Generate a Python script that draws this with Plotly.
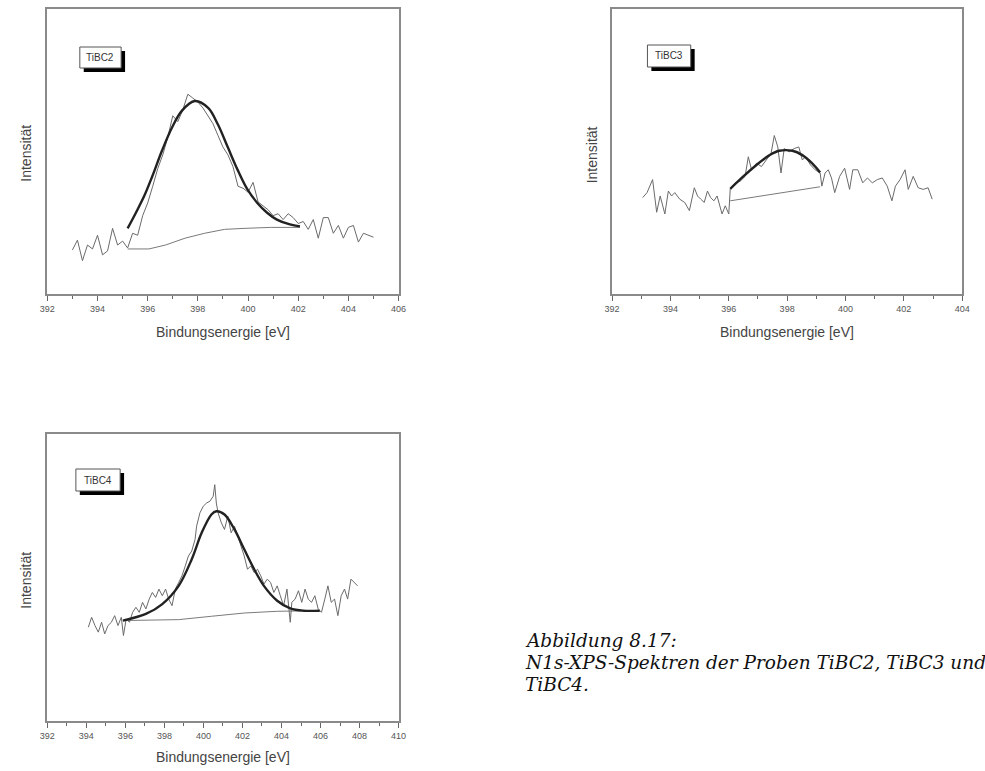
import plotly.graph_objects as go

W, H = 985, 771

# ---------------- data ----------------
# Panel TiBC2
tibc2_x = [393.0, 393.2, 393.4, 393.6, 393.8, 394.0, 394.2, 394.4, 394.6, 394.8,
           395.0, 395.2, 395.4, 395.6, 395.8, 396.0, 396.2, 396.4, 396.6, 396.8,
           397.0, 397.2, 397.4, 397.6, 397.8, 398.0, 398.2, 398.4, 398.6, 398.8,
           399.0, 399.2, 399.4, 399.6, 399.8, 400.0, 400.2, 400.4, 400.6, 400.8,
           401.0, 401.2, 401.4, 401.6, 401.8, 402.0, 402.2, 402.4, 402.6, 402.8,
           403.0, 403.2, 403.4, 403.6, 403.8, 404.0, 404.2, 404.4, 404.6, 404.8, 405.0]
tibc2_y = [36, 46, 25, 41, 37, 51, 31, 35, 58, 41,
           45, 38, 53, 51, 71, 84, 101, 119, 133, 151,
           173, 167, 179, 195, 191, 187, 181, 173, 165, 153,
           141, 133, 121, 101, 99, 95, 105, 85, 81, 77,
           71, 73, 67, 73, 69, 63, 65, 57, 67, 48,
           69, 69, 53, 61, 48, 59, 61, 44, 53, 51, 49]
tibc2_fit_x = [395.20, 395.53, 395.86, 396.18, 396.58, 396.97, 397.36, 397.88, 398.41,
               398.80, 399.19, 399.58, 399.97, 400.37, 400.76, 401.15, 401.67, 402.07]
tibc2_fit_y = [58, 74, 91, 111, 138, 161, 178, 188, 181,
               164, 141, 118, 98, 84, 74, 67, 62, 60]
tibc2_bg_x = [395.20, 396.05, 396.71, 397.49, 398.27, 399.06, 399.84, 400.89, 402.07]
tibc2_bg_y = [37, 37, 41, 48, 53, 57, 58, 59, 59]

# Panel TiBC3
tibc3_x = [393.05, 393.20, 393.39, 393.53, 393.65, 393.81, 393.93, 394.04, 394.15, 394.32,
           394.49, 394.65, 394.82, 394.93, 395.04, 395.16, 395.27, 395.38, 395.49, 395.60,
           395.77, 395.88, 396.00, 396.05, 396.22, 396.39, 396.56, 396.67, 396.78, 396.95,
           397.12, 397.28, 397.45, 397.56, 397.68, 397.79, 397.90, 398.07, 398.24, 398.40,
           398.52, 398.63, 398.80, 398.96, 399.13, 399.19, 399.30, 399.41, 399.52, 399.63,
           399.80, 399.97, 400.14, 400.25, 400.42, 400.59, 400.75, 400.92, 401.09, 401.26,
           401.43, 401.59, 401.71, 401.87, 402.04, 402.15, 402.32, 402.49, 402.66, 402.83, 402.97]
tibc3_y = [95.4, 100.3, 113.2, 80.9, 97.0, 79.2, 101.9, 97.0, 100.3, 93.8,
           90.6, 82.5, 105.1, 97.0, 93.8, 90.6, 101.9, 95.4, 92.2, 97.0,
           79.2, 87.3, 79.2, 103.5, 110.0, 111.6, 116.4, 135.8, 122.9, 129.4,
           126.1, 132.6, 139.1, 156.8, 145.5, 119.7, 143.9, 140.7, 143.9, 145.5,
           132.6, 135.8, 127.7, 122.9, 119.7, 106.7, 119.7, 122.9, 114.8, 100.3,
           116.4, 124.5, 103.5, 122.9, 122.9, 110.0, 114.8, 110.0, 113.2, 114.8,
           106.7, 92.2, 106.7, 113.2, 122.9, 103.5, 116.4, 105.1, 103.5, 105.1, 93.8]
tibc3_fit_x = [396.05, 396.50, 396.95, 397.40, 397.73, 398.18, 398.52, 398.85, 399.13]
tibc3_fit_y = [104.1, 116.4, 127.7, 137.4, 141.7, 141.7, 137.4, 129.4, 120.3]
tibc3_bg_x = [396.05, 399.13]
tibc3_bg_y = [92.2, 106.1]

# Panel TiBC4
tibc4_x = [394.10, 394.27, 394.44, 394.61, 394.78, 394.94, 395.11, 395.28, 395.45, 395.62,
           395.79, 395.90, 396.04, 396.21, 396.37, 396.54, 396.71, 396.88, 397.05, 397.22,
           397.38, 397.55, 397.72, 397.89, 398.06, 398.22, 398.39, 398.56, 398.73, 398.90,
           399.07, 399.23, 399.40, 399.57, 399.65, 399.82, 399.99, 400.16, 400.33, 400.50,
           400.58, 400.66, 400.75, 400.92, 401.08, 401.25, 401.42, 401.59, 401.76, 401.93,
           402.09, 402.26, 402.43, 402.60, 402.77, 402.94, 403.10, 403.27, 403.44, 403.61,
           403.78, 403.94, 404.11, 404.28, 404.45, 404.53, 404.70, 404.87, 405.04, 405.21,
           405.37, 405.54, 405.71, 405.88, 406.05, 406.22, 406.38, 406.55, 406.72, 406.89,
           407.06, 407.23, 407.39, 407.56, 407.73, 407.90]
tibc4_y = [92.1, 101.9, 93.8, 87.3, 97.0, 85.6, 93.8, 97.0, 103.5, 93.8,
           101.9, 84.0, 100.3, 97.0, 106.8, 111.7, 106.8, 116.6, 110.1, 119.8,
           126.3, 121.4, 129.6, 123.1, 129.6, 119.8, 113.3, 129.6, 136.1, 142.6,
           152.4, 162.1, 167.0, 178.4, 191.5, 204.5, 211.0, 214.2, 215.9, 220.8,
           232.2, 214.2, 204.5, 194.7, 188.2, 201.2, 184.9, 191.5, 181.7, 171.9,
           162.1, 149.1, 152.4, 145.9, 149.1, 142.6, 134.5, 139.4, 136.1, 126.3,
           132.8, 123.1, 113.3, 129.6, 97.0, 116.6, 119.8, 128.0, 116.6, 129.6,
           119.8, 116.6, 123.1, 110.1, 106.8, 119.8, 132.8, 116.6, 119.8, 103.5,
           123.1, 129.6, 119.8, 139.4, 136.1, 132.8]
tibc4_fit_x = [395.87, 397.05, 397.89, 398.73, 399.40, 399.91, 400.41, 400.66, 401.08,
               401.59, 402.09, 402.60, 403.10, 403.78, 404.45, 405.12, 405.96]
tibc4_fit_y = [98.7, 105.2, 114.9, 132.8, 158.9, 184.9, 202.9, 206.1, 202.9,
               188.2, 168.7, 149.1, 132.8, 118.2, 110.7, 108.4, 108.4]
tibc4_bg_x = [395.87, 398.73, 400.41, 402.09, 403.78, 405.96]
tibc4_bg_y = [98.7, 99.6, 102.9, 106.1, 107.8, 108.4]

panel_names = ["TiBC2", "TiBC3", "TiBC4"]
x_ranges = [[392, 406], [392, 404], [392, 410]]
y_ranges = [[-9, 282], [0, 282], [0, 282]]
x_title = "Bindungsenergie [eV]"
y_title = "Intensität"
caption = ["Abbildung 8.17:",
           "N1s-XPS-Spektren der Proben TiBC2, TiBC3 und",
           "TiBC4."]

# ---------------- layout geometry (pixels) ----------------
frames = [(40, 397, 9, 294), (614, 970, 9, 294), (40, 397, 434, 721)]
label_boxes = [(73, 115, 47, 68), (650, 694, 45, 67), (69, 114, 469, 491)]
ytitle_pos = [(18, 153), (594, 155), (18, 580)]
xtitle_py = [332, 332, 757]


def fx(px):
    return px / W


def fy(py):
    return 1 - py / H


fig = go.Figure()

series = [
    (tibc2_x, tibc2_y, tibc2_fit_x, tibc2_fit_y, tibc2_bg_x, tibc2_bg_y),
    (tibc3_x, tibc3_y, tibc3_fit_x, tibc3_fit_y, tibc3_bg_x, tibc3_bg_y),
    (tibc4_x, tibc4_y, tibc4_fit_x, tibc4_fit_y, tibc4_bg_x, tibc4_bg_y),
]

annotations = []
shapes = []
sans = "Liberation Sans, Arial, sans-serif"

for i, (sx, sy, fxv, fyv, bx, by) in enumerate(series):
    n = "" if i == 0 else str(i + 1)
    xa, ya = "x" + n, "y" + n
    fig.add_trace(go.Scatter(x=bx, y=by, xaxis=xa, yaxis=ya, mode="lines",
                             line=dict(color="#7a7a7a", width=1), showlegend=False))
    fig.add_trace(go.Scatter(x=sx, y=sy, xaxis=xa, yaxis=ya, mode="lines",
                             line=dict(color="#6a6a6a", width=1), showlegend=False))
    fig.add_trace(go.Scatter(x=fxv, y=fyv, xaxis=xa, yaxis=ya, mode="lines",
                             line=dict(color="#222222", width=2.4, shape="spline"),
                             showlegend=False))
    l, r, t, b = frames[i]
    fig.update_layout(**{
        "xaxis" + n: dict(domain=[fx(l), fx(r)], anchor=ya, range=x_ranges[i],
                          dtick=2, tick0=392, ticks="outside", ticklen=5, tickcolor="#666",
                          tickwidth=1, showline=True, linecolor="#8a8a8a", linewidth=1.5,
                          mirror=True, showgrid=False, zeroline=False,
                          tickfont=dict(size=9, family=sans, color="#555"),
                          minor=dict(dtick=1, tick0=392, ticks="outside", ticklen=3,
                                     tickcolor="#666", showgrid=False)),
        "yaxis" + n: dict(domain=[fy(b), fy(t)], anchor=xa, range=y_ranges[i],
                          showticklabels=False, ticks="", showline=True,
                          linecolor="#8a8a8a", linewidth=1.5, mirror=True,
                          showgrid=False, zeroline=False),
    })
    # axis titles
    annotations.append(dict(xref="paper", yref="paper", x=fx((l + r) / 2), y=fy(xtitle_py[i]),
                            text=x_title, showarrow=False, xanchor="center", yanchor="middle",
                            font=dict(size=14, family=sans, color="#444")))
    tx, ty = ytitle_pos[i]
    annotations.append(dict(xref="paper", yref="paper", x=fx(tx), y=fy(ty), text=y_title,
                            textangle=-90, showarrow=False, xanchor="center",
                            yanchor="middle", font=dict(size=14, family=sans, color="#444")))
    # sample label box with shadow
    bl, br, bt, bb = label_boxes[i]
    shapes.append(dict(type="rect", xref="paper", yref="paper",
                       x0=fx(bl + 4), x1=fx(br + 4), y0=fy(bb + 4), y1=fy(bt + 4),
                       fillcolor="black", line=dict(width=0)))
    shapes.append(dict(type="rect", xref="paper", yref="paper",
                       x0=fx(bl), x1=fx(br), y0=fy(bb), y1=fy(bt),
                       fillcolor="white", line=dict(color="#555", width=1)))
    annotations.append(dict(xref="paper", yref="paper", x=fx((bl + br) / 2),
                            y=fy((bt + bb) / 2), text=panel_names[i], showarrow=False,
                            xanchor="center", yanchor="middle",
                            font=dict(size=10, family=sans, color="#333")))

cap_y = [640, 662, 684]
for txt, py in zip(caption, cap_y):
    annotations.append(dict(xref="paper", yref="paper", x=fx(523), y=fy(py),
                            text="<i>" + txt + "</i>", showarrow=False, xanchor="left",
                            yanchor="middle",
                            font=dict(size=18.5, family="DejaVu Serif, serif", color="#111")))

fig.update_layout(width=W, height=H, margin=dict(l=0, r=0, t=0, b=0),
                  paper_bgcolor="white", plot_bgcolor="white",
                  annotations=annotations, shapes=shapes, showlegend=False)

fig.write_html("out.html")
